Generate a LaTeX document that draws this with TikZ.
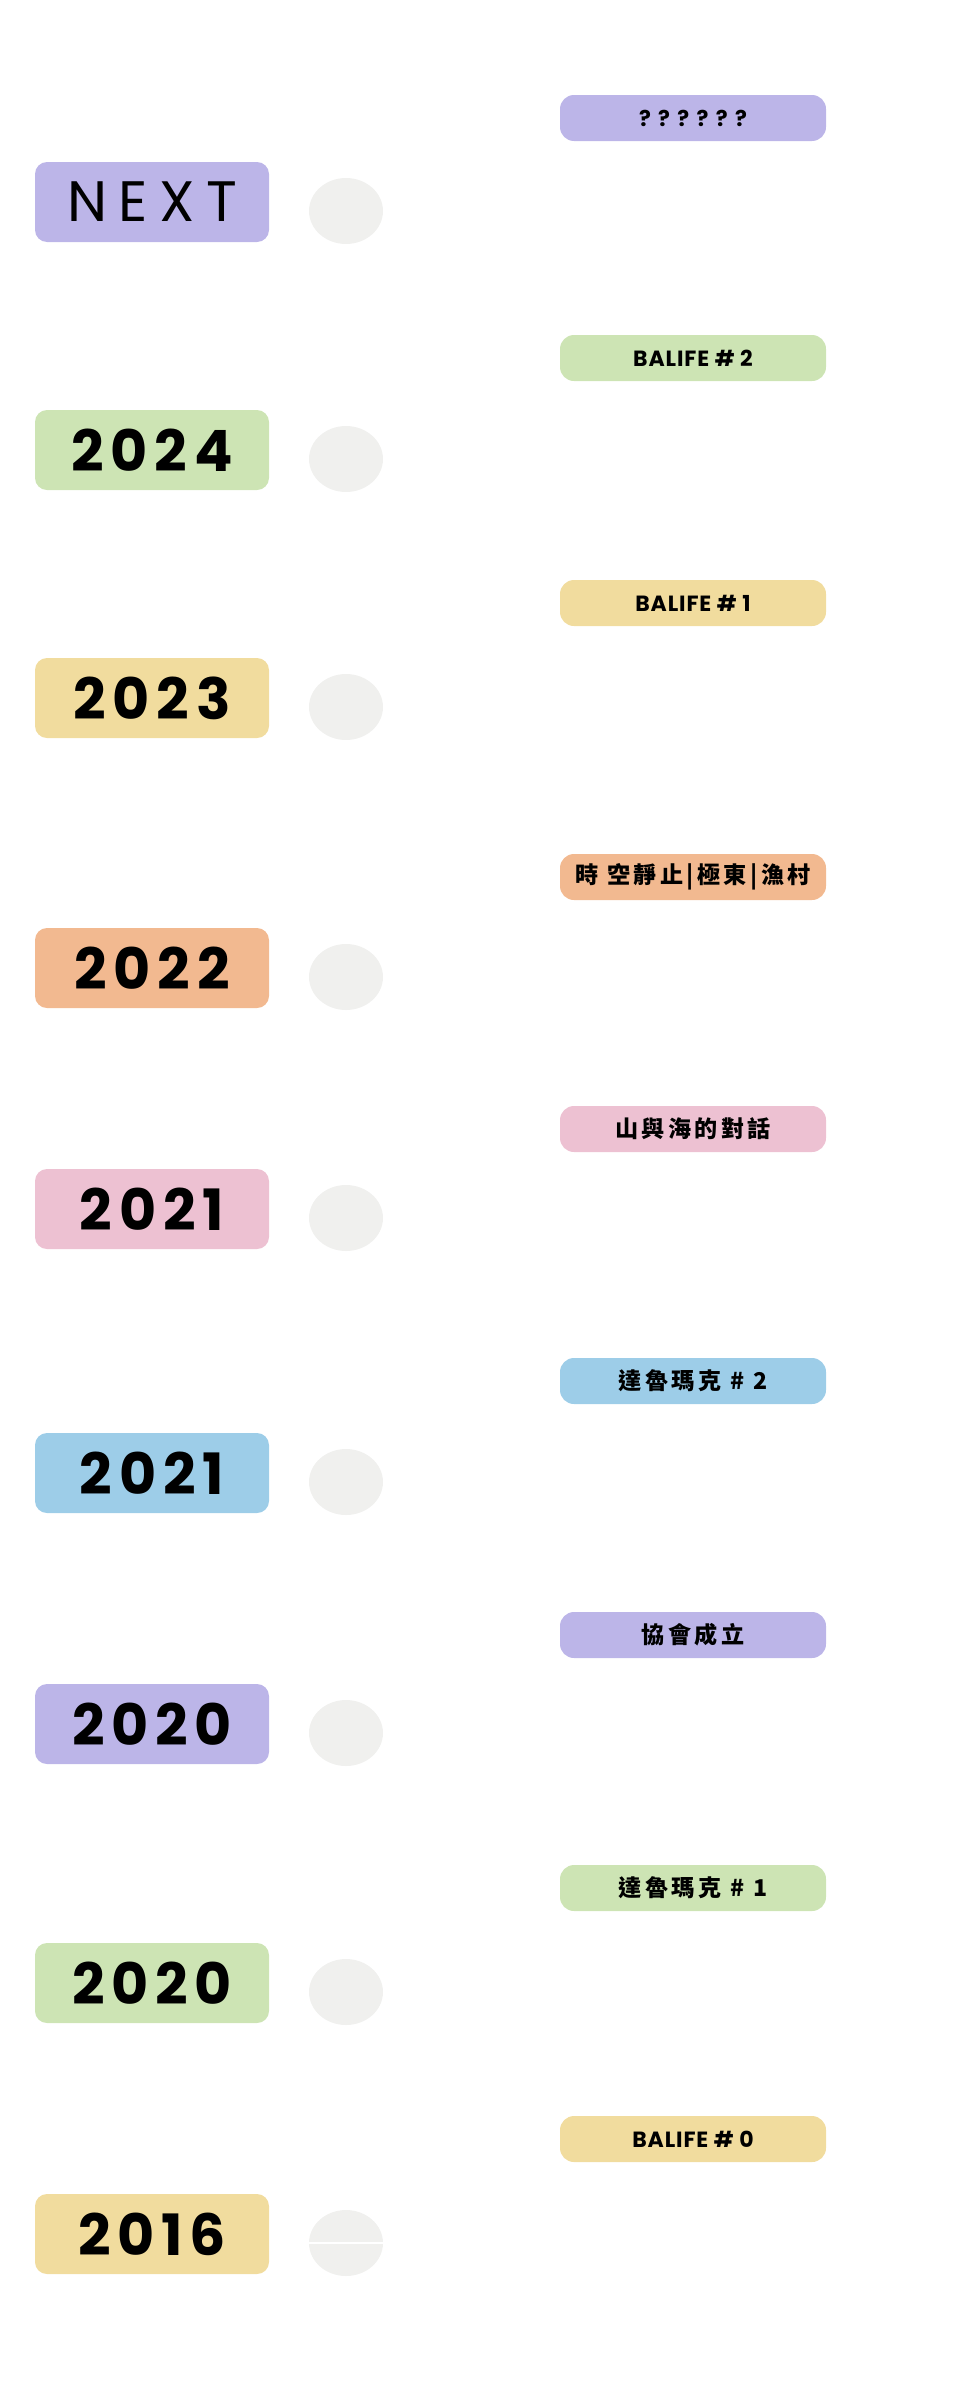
\documentclass[tikz,border=0pt]{standalone}
\usepackage{fontspec}
\setmainfont{Poppins}
\newfontfamily\cjk{Noto Sans CJK TC}[LetterSpace=15, Scale=1.05]
\usetikzlibrary{shapes.geometric}

\definecolor{lavender}{HTML}{BCB5E8}
\definecolor{sage}{HTML}{CDE4B4}
\definecolor{sand}{HTML}{F1DC9E}
\definecolor{peach}{HTML}{F2B990}
\definecolor{blush}{HTML}{EDC1D2}
\definecolor{sky}{HTML}{9DCDE8}
\definecolor{pebble}{HTML}{F0F0EE}

\begin{document}
\begin{tikzpicture}[x=1pt, y=-1pt,
        yearbox/.style={rounded corners=12pt, minimum width=234pt, minimum height=80pt,
            inner sep=0pt, font=\bfseries\fontsize{57}{60}\selectfont\addfontfeature{LetterSpace=12}},
        dot/.style={ellipse, fill=pebble, minimum width=74pt, minimum height=66pt, inner sep=0pt},
        tagbox/.style={rounded corners=14pt, minimum width=266pt, minimum height=46pt,
            inner sep=0pt, font=\bfseries\fontsize{22}{24}\selectfont\addfontfeature{LetterSpace=4}}]
        % 1. Page frame
        \useasboundingbox (0,0) rectangle (976,2398);

        % 2. Year boxes on the left
        \foreach \n/\y/\c/\t in {1/202/lavender/{\mdseries\addfontfeature{LetterSpace=20}NEXT},
                2/450/sage/2024, 3/698/sand/2023,
                4/968/peach/2022, 5/1209/blush/2021, 6/1473/sky/2021,
                7/1724/lavender/2020, 8/1983/sage/2020, 9/2234/sand/2016}
            \node[yearbox, fill=\c] (year\n) at (152,\y) {\t};

        % 3. Grey dots beside the years
        \foreach \n/\y in {1/211, 2/459, 3/707, 4/977, 5/1218, 6/1482, 7/1733, 8/1992, 9/2243}
            \node[dot] (dot\n) at (346,\y) {};
        \draw[white, line width=2.5pt] (dot9.west) -- (dot9.east);

        % 4. Event tags on the right
        \foreach \n/\y/\c/\t in {1/118/lavender/? ? ? ? ? ?, 2/358/sage/BALIFE \# 2,
                3/603/sand/BALIFE \# 1, 4/877/peach/{\cjk 時 空靜止|極東|漁村},
                5/1129/blush/{\cjk 山與海的對話}, 6/1381/sky/{\cjk 達魯瑪克 \# 2},
                7/1635/lavender/{\cjk 協會成立}, 8/1888/sage/{\cjk 達魯瑪克 \# 1},
                9/2139/sand/BALIFE \# 0}
            \node[tagbox, fill=\c] (tag\n) at (693,\y) {\t};
    \end{tikzpicture}
\end{document}
